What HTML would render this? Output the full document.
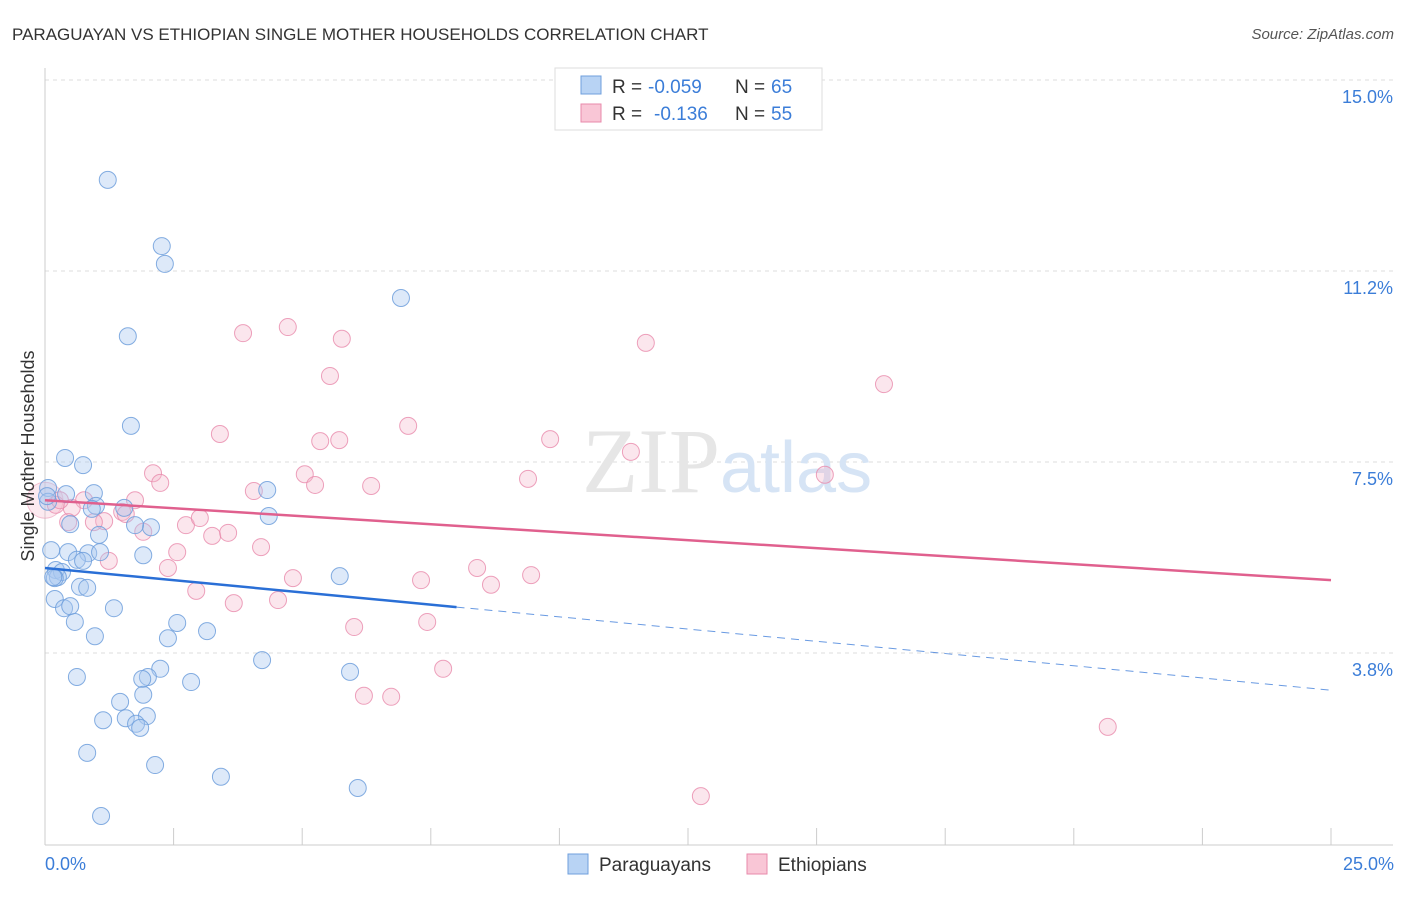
<!DOCTYPE html>
<html><head><meta charset="utf-8"><style>
body{margin:0;background:#fff;font-family:"Liberation Sans",sans-serif;}
</style></head><body>
<svg width="1406" height="892" xmlns="http://www.w3.org/2000/svg" font-family="Liberation Sans, sans-serif">
<text x="12" y="40" font-size="17" fill="#333">PARAGUAYAN VS ETHIOPIAN SINGLE MOTHER HOUSEHOLDS CORRELATION CHART</text>
<text x="1394" y="39" font-size="15" fill="#555" font-style="italic" text-anchor="end">Source: ZipAtlas.com</text>
<g id="grid"></g>
<text x="720" y="492" font-size="92" fill="#e6e6e6" text-anchor="end" font-family="Liberation Serif, serif">ZIP</text>
<text x="720" y="492" font-size="72" fill="#d6e4f5">atlas</text>
<g id="marks"></g>
<text transform="translate(34,456) rotate(-90)" font-size="18" fill="#333" text-anchor="middle">Single Mother Households</text>
<text x="45" y="870" font-size="18" fill="#3b7dd8">0.0%</text>
<text x="1394" y="870" font-size="18" fill="#3b7dd8" text-anchor="end">25.0%</text>
<g>
<rect x="555" y="68" width="267" height="62" fill="#fff" stroke="#ddd"/>
<rect x="581" y="76" width="20" height="18" fill="#b8d3f4" stroke="#6f9fdc"/>
<rect x="581" y="104" width="20" height="18" fill="#f9c6d6" stroke="#e88aab"/>
<text x="612" y="93" font-size="19" fill="#333">R =</text>
<text x="648" y="93" font-size="19" fill="#3b7dd8">-0.059</text>
<text x="735" y="93" font-size="19" fill="#333">N =</text>
<text x="771" y="93" font-size="19" fill="#3b7dd8">65</text>
<text x="612" y="120" font-size="19" fill="#333">R =</text>
<text x="654" y="120" font-size="19" fill="#3b7dd8">-0.136</text>
<text x="735" y="120" font-size="19" fill="#333">N =</text>
<text x="771" y="120" font-size="19" fill="#3b7dd8">55</text>
</g>
<g>
<rect x="568" y="854" width="20" height="20" fill="#b8d3f4" stroke="#6f9fdc"/>
<text x="599" y="871" font-size="19" fill="#333">Paraguayans</text>
<rect x="747" y="854" width="20" height="20" fill="#f9c6d6" stroke="#e88aab"/>
<text x="778" y="871" font-size="19" fill="#333">Ethiopians</text>
</g>
</svg>
<script>
const yTicks=[3.75,7.5,11.25,15];
const yTickLabels=["3.8%","7.5%","11.2%","15.0%"];
const xTicks=[0,2.5,5,7.5,10,12.5,15,17.5,20,22.5,25];
const bluePx=[[108,180],[162,246],[165,264],[401,298],[128,336],[131,426],[65,458],[83,465],[48,488],[66,494],[94,493],[96,506],[124,508],[92,509],[267,490],[269,516],[70,524],[151,527],[135,525],[99,535],[51,550],[68,552],[88,553],[100,552],[143,555],[77,560],[83,561],[56,570],[62,572],[58,577],[55,578],[340,576],[80,587],[87,588],[55,599],[64,608],[70,606],[114,608],[75,622],[177,623],[95,636],[168,638],[207,631],[262,660],[160,669],[350,672],[77,677],[148,677],[142,679],[191,682],[120,702],[143,695],[126,718],[103,720],[147,716],[136,724],[140,728],[87,753],[155,765],[221,777],[358,788],[101,816],[48,502],[53,577],[47,496]];
const pinkPx=[[288,327],[243,333],[342,339],[646,343],[330,376],[884,384],[408,426],[220,434],[320,441],[339,440],[550,439],[631,452],[153,473],[305,474],[160,483],[315,485],[528,479],[825,475],[371,486],[254,491],[135,500],[84,500],[72,508],[122,512],[126,514],[104,521],[94,522],[68,522],[186,525],[200,518],[212,536],[228,533],[143,532],[261,547],[177,552],[109,561],[168,568],[477,568],[293,578],[421,580],[491,585],[531,575],[196,591],[278,600],[234,603],[354,627],[427,622],[443,669],[364,696],[391,697],[1108,727],[701,796],[56,505],[60,500]];
const blueX=bluePx.map(p=>+((p[0]-45)/51.44).toFixed(2));
const blueY=bluePx.map(p=>+((844-p[1])/50.93).toFixed(2));
const pinkX=pinkPx.map(p=>+((p[0]-45)/51.44).toFixed(2));
const pinkY=pinkPx.map(p=>+((844-p[1])/50.93).toFixed(2));
const blueTrend=[5.42,3.02]; const blueSolidEnd=8.0;
const pinkTrend=[6.75,5.18];
const sx=v=>45+v*51.44, sy=v=>844-v*50.93;
const NS="http://www.w3.org/2000/svg";
function mk(tag,a,parent){const e=document.createElementNS(NS,tag);for(const k in a)e.setAttribute(k,a[k]);parent.appendChild(e);return e;}
const grid=document.getElementById('grid'), marks=document.getElementById('marks');
yTicks.forEach((t,i)=>{
 const l=mk('line',{x1:45,x2:1393,y1:sy(t),y2:sy(t),stroke:'#ddd','stroke-dasharray':'4,4'},grid);
 
 
 const tx=mk('text',{x:1393,y:sy(t)+23,'font-size':18,fill:'#3b7dd8','text-anchor':'end'},grid);
 tx.textContent=yTickLabels[i];
 
 
});
const ax=mk('line',{x1:45,x2:45,y1:68,y2:845,stroke:'#ccc'},grid);


const bx=mk('line',{x1:45,x2:1393,y1:845,y2:845,stroke:'#ccc'},grid);


xTicks.forEach(t=>{const l=mk('line',{x1:sx(t),x2:sx(t),y1:828,y2:845,stroke:'#ccc'},grid);
 
 });
mk('circle',{cx:sx(0),cy:sy(6.75),r:18,fill:'rgba(244,184,204,0.3)',stroke:'#e88aab','stroke-opacity':0.5},marks);
pinkX.forEach((x,i)=>{const c=mk('circle',{cx:sx(x),cy:sy(pinkY[i]),r:8.5,fill:'rgba(244,184,204,0.35)',stroke:'#e88aab','stroke-opacity':0.8},marks);
 
 });
blueX.forEach((x,i)=>{const c=mk('circle',{cx:sx(x),cy:sy(blueY[i]),r:8.5,fill:'rgba(169,200,240,0.4)',stroke:'#6f9fdc','stroke-opacity':0.85},marks);
 
 });
const bAt=x=>blueTrend[0]+(blueTrend[1]-blueTrend[0])*x/25;
const t1=mk('line',{x1:sx(0),y1:sy(bAt(0)),x2:sx(blueSolidEnd),y2:sy(bAt(blueSolidEnd)),stroke:'#2a6fd6','stroke-width':2.5},marks);


const t2=mk('line',{x1:sx(blueSolidEnd),y1:sy(bAt(blueSolidEnd)),x2:sx(25),y2:sy(bAt(25)),stroke:'#2a6fd6','stroke-width':1,'stroke-dasharray':'8,6','stroke-opacity':0.7},marks);


const t3=mk('line',{x1:sx(0),y1:sy(pinkTrend[0]),x2:sx(25),y2:sy(pinkTrend[1]),stroke:'#e0608e','stroke-width':2.5},marks);


</script>
</body></html>
